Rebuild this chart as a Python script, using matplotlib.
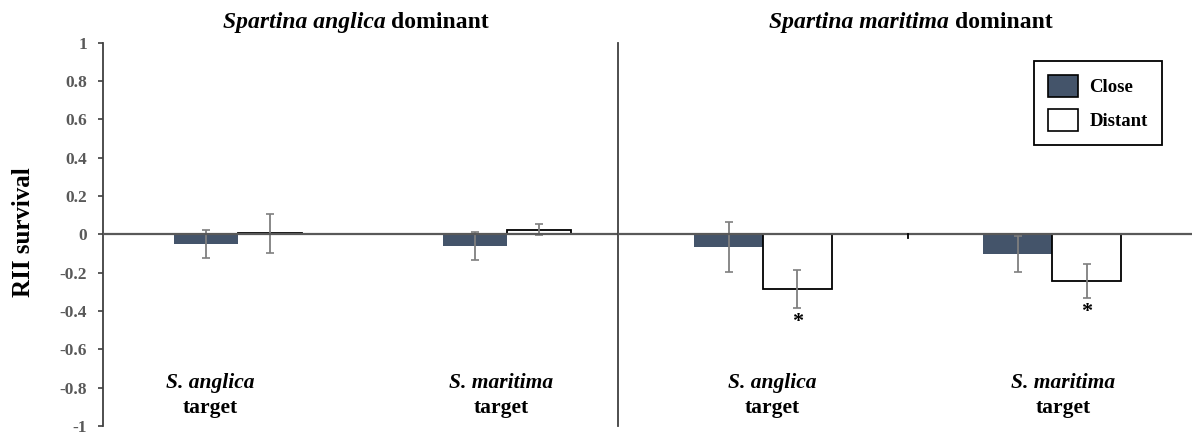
import matplotlib
matplotlib.use("Agg")
from matplotlib import pyplot as plt
from matplotlib.patches import Patch

# data ------------------------------------------------------------
panel_titles = ["Spartina anglica", "Spartina maritima"]
targets = ["S. anglica", "S. maritima"]

# left panel: Spartina anglica dominant, right panel: Spartina maritima dominant
close_mean = [[-0.05, -0.062], [-0.065, -0.102]]
close_err = [[0.075, 0.074], [0.13, 0.095]]
distant_mean = [[0.005, 0.025], [-0.285, -0.243]]
distant_err = [[0.10, 0.028], [0.097, 0.087]]
signif = [[False, False], [True, True]]

yticks = [-1, -0.8, -0.6, -0.4, -0.2, 0, 0.2, 0.4, 0.6, 0.8, 1]
ytick_labels = ["-1", "-0.8", "-0.6", "-0.4", "-0.2", "0", "0.2", "0.4", "0.6", "0.8", "1"]

close_col = "#44546A"
err_col = "#7F7F7F"
serif = ["Liberation Serif", "DejaVu Serif"]

W, H = 1196, 434
fig = plt.figure(figsize=(W / 100, H / 100), dpi=100)

bot = 1 - 426 / H
top = 1 - 42.7 / H
ax1 = fig.add_axes([103 / W, bot, (618 - 103) / W, top - bot])
ax2 = fig.add_axes([618 / W, bot, (1192 - 618) / W, top - bot])

# x ranges so that both panels sit like in the original figure
xlims = [(-0.502, 1.413), (-0.502, 1.484)]
label_x = [[-0.104, 0.978], [0.031, 1.038]]
bw = 0.238

for p, ax in enumerate([ax1, ax2]):
    xs = [0, 1]
    ax.bar([x - bw / 2 for x in xs], close_mean[p], bw, color=close_col, zorder=2)
    ax.bar([x + bw / 2 for x in xs], distant_mean[p], bw, color="white",
           edgecolor="black", linewidth=1.3, zorder=2)
    ax.errorbar([x - bw / 2 for x in xs], close_mean[p], yerr=close_err[p], fmt="none",
                ecolor=err_col, elinewidth=1.3, capsize=3, capthick=1.2, zorder=3)
    ax.errorbar([x + bw / 2 for x in xs], distant_mean[p], yerr=distant_err[p], fmt="none",
                ecolor=err_col, elinewidth=1.3, capsize=3, capthick=1.2, zorder=3)
    ax.axhline(0, color="#595959", lw=1.6, zorder=4)
    for i in range(2):
        if signif[p][i]:
            ax.text(xs[i] + bw / 2, distant_mean[p][i] - distant_err[p][i] - 0.075, "*",
                    ha="center", va="center", fontsize=16, fontweight="bold", family=serif)
        ax.text(label_x[p][i], -0.8, targets[i], ha="center", va="baseline",
                fontsize=15.5, fontweight="bold", style="italic", family=serif)
        ax.text(label_x[p][i], -0.93, "target", ha="center", va="baseline",
                fontsize=15.5, fontweight="bold", family=serif)
    ax.set_xlim(*xlims[p])
    ax.set_ylim(-1, 1)
    ax.set_xticks([])
    for s in ["top", "right", "bottom"]:
        ax.spines[s].set_visible(False)
    ax.spines["left"].set_color("#404040")
    ax.spines["left"].set_linewidth(1.3)
    ax.patch.set_alpha(0)

ax1.set_yticks(yticks)
ax1.set_yticklabels(ytick_labels, fontsize=12.5, fontweight="bold", color="#595959",
                    family=serif)
ax1.tick_params(axis="y", length=3.5, width=1.2, color="#404040", pad=8)
ax2.set_yticks([])
# small category divider tick on the right panel
ax2.plot([0.5, 0.5], [0, -0.018], color="black", lw=1.3, zorder=5)

fig.text(24 / W, 1 - 232 / H, "RII survival", rotation=90, ha="center", va="center",
         fontsize=18, fontweight="bold", family=serif)

# panel titles: italic species name + bold "dominant"
renderer = fig.canvas.get_renderer()
title_cx = [356, 911]
for p in range(2):
    t1 = fig.text(0, 1 - 28 / H, panel_titles[p], fontsize=17, fontweight="bold",
                  style="italic", family=serif, va="baseline", ha="left")
    t2 = fig.text(0, 1 - 28 / H, "dominant", fontsize=17, fontweight="bold",
                  family=serif, va="baseline", ha="left")
    w1 = t1.get_window_extent(renderer).width
    w2 = t2.get_window_extent(renderer).width
    gap = 0.25 * 17 * 100 / 72
    x0 = title_cx[p] - (w1 + gap + w2) / 2
    t1.set_x(x0 / W)
    t2.set_x((x0 + w1 + gap) / W)

handles = [Patch(facecolor=close_col, edgecolor="black", linewidth=1.2),
           Patch(facecolor="white", edgecolor="black", linewidth=1.2)]
leg = fig.legend(handles, ["Close", "Distant"], loc="upper left",
                 bbox_to_anchor=(1034 / W, 1 - 61 / H), borderaxespad=0,
                 prop={"family": serif, "weight": "bold", "size": 13.5},
                 handlelength=1.6, handleheight=1.4, handletextpad=0.6,
                 labelspacing=0.65, borderpad=0.75, fancybox=False, framealpha=1)
leg.get_frame().set_edgecolor("black")
leg.get_frame().set_linewidth(1.3)

fig.savefig("out.png", dpi=100)
